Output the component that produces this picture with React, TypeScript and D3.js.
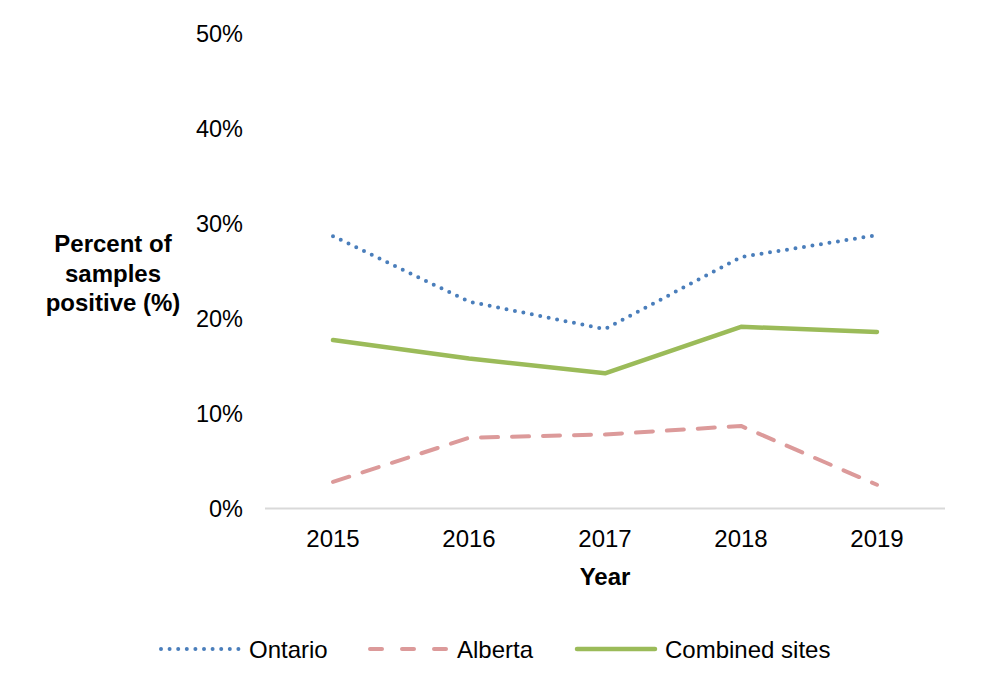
import * as d3 from 'd3';

import React, { useEffect, useRef } from 'react';

const years = ['2015', '2016', '2017', '2018', '2019'];
const ontario = [28.7, 21.8, 18.9, 26.5, 28.8];
const alberta = [2.8, 7.45, 7.8, 8.7, 2.5];
const combined = [17.75, 15.8, 14.25, 19.15, 18.6];
const yTicks = [0, 10, 20, 30, 40, 50];

const seriesNames = ['Ontario', 'Alberta', 'Combined sites'];
const seriesValues = [ontario, alberta, combined];
const seriesColors = ['#4a7ebb', '#dc9a9a', '#9bbb59'];

const FONT = '"Liberation Sans", Arial, sans-serif';

export default function App() {
  const chartRef = useRef<SVGSVGElement>(null);

  useEffect(() => {
    const width = 982;
    const height = 691;
    const margin = { top: 34, right: 37, bottom: 182, left: 265 };

    const svg = d3.select(chartRef.current);
    svg.selectAll('*').remove();

    const x = d3
      .scaleBand<string>()
      .domain(years)
      .range([margin.left, width - margin.right])
      .padding(0);

    const y = d3
      .scaleLinear()
      .domain([0, 50])
      .range([height - margin.bottom - 0.5, margin.top]);

    const cx = (d: string) => (x(d) as number) + x.bandwidth() / 2;

    // y tick labels (no gridlines in the original)
    svg
      .append('g')
      .selectAll('text')
      .data(yTicks)
      .join('text')
      .attr('x', 243)
      .attr('y', (d) => y(d))
      .attr('dy', '0.36em')
      .attr('text-anchor', 'end')
      .style('font-family', FONT)
      .style('font-size', '23.5px')
      .attr('fill', '#000')
      .text((d) => `${d}%`);

    // x axis baseline
    svg
      .append('line')
      .attr('x1', margin.left)
      .attr('x2', width - margin.right)
      .attr('y1', y(0))
      .attr('y2', y(0))
      .attr('stroke', '#d9d9d9')
      .attr('stroke-width', 2);

    svg
      .append('g')
      .selectAll('text')
      .data(years)
      .join('text')
      .attr('x', (d) => cx(d))
      .attr('y', 547)
      .attr('text-anchor', 'middle')
      .style('font-family', FONT)
      .style('font-size', '24px')
      .attr('fill', '#000')
      .text((d) => d);

    // axis titles
    svg
      .append('text')
      .attr('x', (margin.left + width - margin.right) / 2)
      .attr('y', 585)
      .attr('text-anchor', 'middle')
      .style('font-family', FONT)
      .style('font-size', '24px')
      .style('font-weight', 'bold')
      .text('Year');

    const yTitle = svg
      .append('text')
      .attr('text-anchor', 'middle')
      .style('font-family', FONT)
      .style('font-size', '24px')
      .style('font-weight', 'bold');
    ['Percent of', 'samples', 'positive (%)'].forEach((t, i) => {
      yTitle
        .append('tspan')
        .attr('x', 113)
        .attr('y', 252 + i * 29.5)
        .text(t);
    });

    const dashFor = (i: number) => (i === 0 ? '0 8.6' : i === 1 ? '17 14' : null);

    const line = d3
      .line<number>()
      .x((_, i) => cx(years[i]))
      .y((d) => y(d));

    svg
      .append('g')
      .selectAll('path')
      .data(seriesValues)
      .join('path')
      .attr('d', (d) => line(d))
      .attr('fill', 'none')
      .attr('stroke', (_, i) => seriesColors[i])
      .attr('stroke-width', (_, i) => (i === 2 ? 4.5 : 4))
      .attr('stroke-linecap', 'round')
      .attr('stroke-linejoin', 'round')
      .attr('stroke-dasharray', (_, i) => dashFor(i));

    // legend
    const legendX = [161, 370, 577];
    const legend = svg
      .append('g')
      .selectAll('g')
      .data(seriesNames)
      .join('g')
      .attr('transform', (_, i) => `translate(${legendX[i]},649)`);

    legend
      .append('line')
      .attr('x1', 0)
      .attr('x2', (_, i) => (i === 1 ? 82 : 78))
      .attr('y1', 0)
      .attr('y2', 0)
      .attr('stroke', (_, i) => seriesColors[i])
      .attr('stroke-width', (_, i) => (i === 2 ? 4.5 : 4))
      .attr('stroke-linecap', 'round')
      .attr('stroke-dasharray', (_, i) => (i === 0 ? '0 8.6' : i === 1 ? '12 20' : null));

    legend
      .append('text')
      .attr('x', (_, i) => (i === 1 ? 87 : 88))
      .attr('y', 0)
      .attr('dy', '0.36em')
      .style('font-family', FONT)
      .style('font-size', '24px')
      .attr('fill', '#000')
      .text((d) => d);
  }, []);

  return (
    <svg
      ref={chartRef}
      width={982}
      height={691}
      style={{ position: 'absolute', left: 0, top: 0, background: '#fff' }}
    />
  );
}
